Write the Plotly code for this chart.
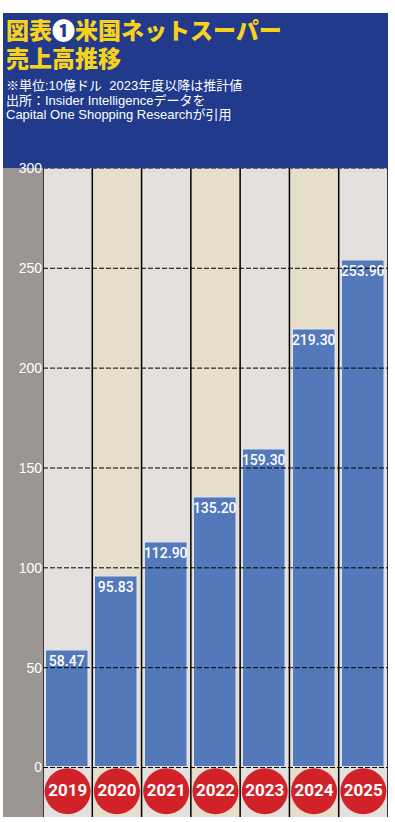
import plotly.graph_objects as go

# ---------------- data ----------------
years = ["2019", "2020", "2021", "2022", "2023", "2024", "2025"]
sales = [58.47, 95.83, 112.90, 135.20, 159.30, 219.30, 253.90]
value_labels = ["58.47", "95.83", "112.90", "135.20", "159.30", "219.30", "253.90"]
y_ticks = [0, 50, 100, 150, 200, 250, 300]
y_tick_labels = ["0", "50", "100", "150", "200", "250", "300"]
title_lines = ["図表<span style=\"color:#ffffff\">❶</span>米国ネットスーパー", "売上高推移"]
note_lines = [
    "※単位:10億ドル  2023年度以降は推計値",
    "出所：Insider Intelligenceデータを",
    "Capital One Shopping Researchが引用",
]

# ---------------- layout constants ----------------
W, H = 395, 822
Y_MIN, Y_MAX = -24.8, 300
PX0, PX1 = 43, 388          # plot area left/right (px)
PY_TOP, PY_BOT = 162, 817   # plot area top/bottom (px)
CIRCLE_Y = -11.9

NAVY = "#213a8c"
GRAY = "#9b9692"
COL_A = "#e4e0dd"
COL_B = "#e6ddcb"
BAR = "#5479bb"
RED = "#d1222a"
YELLOW = "#f6d21c"

n = len(years)
col_colors = [COL_A if i % 2 == 0 else COL_B for i in range(n)]

fig = go.Figure()

# background columns
fig.add_trace(go.Bar(
    x=years, y=[Y_MAX - Y_MIN] * n, base=Y_MIN, width=1,
    marker=dict(color=col_colors, line=dict(width=0)),
    hoverinfo="skip", showlegend=False,
))

# main bars
fig.add_trace(go.Bar(
    x=years, y=sales, width=0.87,
    marker=dict(color=BAR, line=dict(color="#dde1ea", width=1.5)),
    text=value_labels, textposition="inside", insidetextanchor="end",
    constraintext="none", textangle=0,
    textfont=dict(color="white", size=14, family="Roboto, Liberation Sans, sans-serif", weight=500),
    hoverinfo="skip", showlegend=False,
))

# year circles
fig.add_trace(go.Scatter(
    x=years, y=[CIRCLE_Y] * n, mode="markers+text",
    marker=dict(size=46, color=RED, line=dict(width=0)),
    text=years, textposition="middle center",
    textfont=dict(color="white", size=17, family="Roboto, sans-serif", weight="bold"),
    hoverinfo="skip", showlegend=False, cliponaxis=False,
))

shapes = []
# navy header
shapes.append(dict(type="rect", xref="paper", yref="paper",
                   x0=3 / W, x1=PX1 / W, y0=1 - PY_TOP / H, y1=1 - 5 / H,
                   fillcolor=NAVY, line=dict(width=0), layer="below"))
# gray strip
shapes.append(dict(type="rect", xref="paper", yref="paper",
                   x0=3 / W, x1=PX0 / W, y0=1 - PY_BOT / H, y1=1 - PY_TOP / H,
                   fillcolor=GRAY, line=dict(width=0), layer="below"))
# vertical column separators
for i in range(n + 1):
    shapes.append(dict(type="line", xref="x", yref="paper",
                       x0=i - 0.5, x1=i - 0.5, y0=1 - PY_BOT / H, y1=1 - PY_TOP / H,
                       line=dict(color="black", width=1.5), layer="above"))
# horizontal dashed grid
for t in y_ticks:
    shapes.append(dict(type="line", xref="paper", yref="y",
                       x0=PX0 / W, x1=PX1 / W, y0=t, y1=t,
                       line=dict(color="black", width=1, dash="5px,2px"), layer="above"))

annotations = []
for line, yc in zip(title_lines, [23, 52]):
    annotations.append(dict(xref="paper", yref="paper", x=4 / W, y=1 - yc / H,
                            xanchor="left", yanchor="middle", align="left", showarrow=False,
                            text=line,
                            font=dict(family="Liberation Sans, Noto Sans CJK JP, sans-serif",
                                      size=23, color=YELLOW, weight=900)))
for line, yc in zip(note_lines, [78, 93, 108]):
    annotations.append(dict(xref="paper", yref="paper", x=4 / W, y=1 - yc / H,
                            xanchor="left", yanchor="middle", align="left", showarrow=False,
                            text=line,
                            font=dict(family="Liberation Sans, Noto Sans CJK JP, sans-serif",
                                      size=13, color="white")))

fig.update_layout(
    width=W, height=H,
    margin=dict(l=0, r=0, t=0, b=0),
    paper_bgcolor="white", plot_bgcolor="rgba(0,0,0,0)",
    barmode="overlay", bargap=0,
    showlegend=False,
    xaxis=dict(domain=[PX0 / W, PX1 / W], range=[-0.5, n - 0.5],
               showticklabels=False, showgrid=False, zeroline=False,
               showline=False, ticks="", fixedrange=True),
    yaxis=dict(domain=[1 - PY_BOT / H, 1 - PY_TOP / H], range=[Y_MIN, Y_MAX],
               tickvals=y_ticks, ticktext=y_tick_labels,
               showgrid=False, zeroline=False, showline=False, ticks="",
               tickfont=dict(color="white", size=14, family="Liberation Sans, Arial, sans-serif"),
               fixedrange=True),
    shapes=shapes,
    annotations=annotations,
)

fig.write_html("out.html", config={"displayModeBar": False},
               post_script="document.body.style.margin='0';document.body.style.overflow='hidden';")
